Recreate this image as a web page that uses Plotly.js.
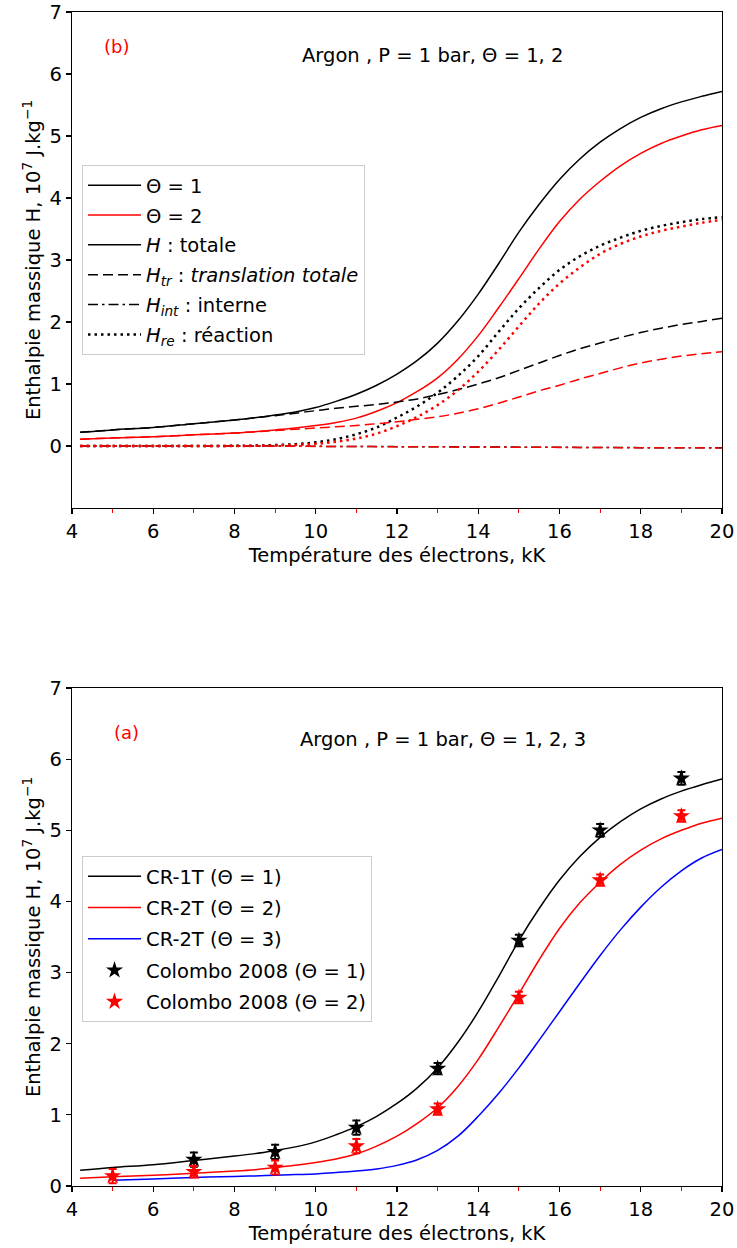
<!DOCTYPE html>
<html>
<head>
<meta charset="utf-8">
<script src="https://cdn.plot.ly/plotly-3.0.1.min.js"></script>
<style>html,body{margin:0;padding:0;background:#fff;}#chart{width:737px;height:1248px;}</style>
</head>
<body>
<div id="chart"></div>
<script>
// Electron temperature grid, kK
const T = [4.2, 5, 6, 7, 8, 8.5, 9, 9.5, 10, 10.5, 11, 11.5, 12, 12.5, 13, 13.5, 14, 14.5, 15, 15.5, 16, 16.5, 17, 17.5, 18, 18.5, 19, 19.5, 20];

// Total enthalpy, 10^7 J/kg
const H_theta1 = [0.22, 0.26, 0.30, 0.36, 0.42, 0.455, 0.50, 0.55, 0.62, 0.72, 0.835, 0.98, 1.16, 1.38, 1.66, 2.02, 2.45, 2.94, 3.45, 3.90, 4.30, 4.63, 4.90, 5.12, 5.30, 5.44, 5.55, 5.64, 5.72];
const H_theta2 = [0.11, 0.13, 0.15, 0.18, 0.21, 0.23, 0.26, 0.29, 0.33, 0.38, 0.45, 0.56, 0.70, 0.88, 1.10, 1.40, 1.78, 2.23, 2.70, 3.18, 3.62, 3.98, 4.27, 4.52, 4.72, 4.88, 5.00, 5.10, 5.17];

// Theta = 3 (starts at 5 kK)
const T3 = [5, 6, 7, 8, 8.5, 9, 9.5, 10, 10.5, 11, 11.5, 12, 12.5, 13, 13.5, 14, 14.5, 15, 15.5, 16, 16.5, 17, 17.5, 18, 18.5, 19, 19.5, 20];
const H_theta3 = [0.08, 0.10, 0.12, 0.135, 0.142, 0.15, 0.16, 0.17, 0.19, 0.21, 0.24, 0.29, 0.37, 0.50, 0.70, 0.98, 1.30, 1.66, 2.05, 2.45, 2.85, 3.24, 3.60, 3.92, 4.20, 4.43, 4.61, 4.73];

// Translation enthalpy
const Htr_theta1 = [0.22, 0.26, 0.30, 0.36, 0.42, 0.455, 0.49, 0.53, 0.57, 0.61, 0.64, 0.67, 0.71, 0.76, 0.83, 0.91, 1.00, 1.10, 1.22, 1.34, 1.46, 1.57, 1.66, 1.75, 1.83, 1.90, 1.96, 2.01, 2.06];
const Htr_theta2 = [0.11, 0.13, 0.15, 0.18, 0.21, 0.23, 0.25, 0.27, 0.29, 0.31, 0.33, 0.36, 0.39, 0.43, 0.47, 0.53, 0.60, 0.69, 0.79, 0.89, 0.98, 1.08, 1.17, 1.26, 1.34, 1.40, 1.45, 1.49, 1.52];

// Internal enthalpy
const Hint_theta1 = [0.0, 0.0, 0.0, 0.0, 0.0, 0.0, 0.0, -0.003, -0.005, -0.007, -0.008, -0.009, -0.01, -0.011, -0.012, -0.014, -0.015, -0.017, -0.018, -0.02, -0.021, -0.022, -0.024, -0.025, -0.026, -0.027, -0.028, -0.029, -0.03];
const Hint_theta2 = [0.0, 0.0, 0.0, 0.0, 0.0, 0.0, -0.002, -0.004, -0.006, -0.008, -0.009, -0.01, -0.011, -0.012, -0.013, -0.015, -0.016, -0.018, -0.019, -0.021, -0.022, -0.023, -0.025, -0.026, -0.027, -0.028, -0.029, -0.03, -0.031];

// Reaction enthalpy
const Hre_theta1 = [0.0, 0.0, 0.0, 0.0, 0.003, 0.007, 0.015, 0.03, 0.06, 0.11, 0.19, 0.30, 0.46, 0.64, 0.86, 1.13, 1.45, 1.84, 2.22, 2.55, 2.84, 3.06, 3.23, 3.36, 3.47, 3.55, 3.61, 3.66, 3.69];
const Hre_theta2 = [0.0, 0.0, 0.0, 0.0, 0.001, 0.003, 0.008, 0.018, 0.035, 0.07, 0.12, 0.20, 0.32, 0.47, 0.66, 0.90, 1.20, 1.55, 1.93, 2.30, 2.62, 2.88, 3.10, 3.26, 3.38, 3.47, 3.54, 3.60, 3.65];

// Colombo 2008 measurements
const T_colombo = [5, 7, 9, 11, 13, 15, 17, 19];
const colombo_theta1 = [null, 0.37, 0.48, 0.82, 1.65, 3.45, 5.00, 5.73];
const colombo_theta1_err = [0, 0.1, 0.1, 0.1, 0.08, 0.08, 0.09, 0.09];
const colombo_theta2 = [0.14, 0.20, 0.26, 0.56, 1.08, 2.65, 4.30, 5.20];
const colombo_theta2_err = [0.1, 0.08, 0.1, 0.1, 0.08, 0.08, 0.08, 0.08];

// Tick labels
const xTicks = [4, 6, 8, 10, 12, 14, 16, 18, 20];
const yTicks = [0, 1, 2, 3, 4, 5, 6, 7];

const F = 'DejaVu Sans';
const FS = 19.5;
const RED = '#ff0000';
const BLUE = '#0000ff';
const DASH = '10px,5px';
const DOT = '2.5px,4px';
const DASHDOT = '10px,4px,2.5px,4px';

function ln(x, y, color, dash, width, name, show, group) {
  return {
    type: 'scatter', mode: 'lines', x: x, y: y, name: name || '',
    xaxis: 'x', yaxis: 'y', showlegend: !!show, legend: 'legend',
    legendgroup: group || undefined,
    line: {color: color, width: width || 1.5, dash: dash || 'solid', shape: 'spline', smoothing: 1},
    hoverinfo: 'skip'
  };
}

const data = [
  ln(T, H_theta1, 'black', 'solid', 1.5, 'Θ = 1', true, 'g1'),
  ln(T, H_theta2, RED, 'solid', 1.5, 'Θ = 2', true, 'g2'),
  ln([null], [null], 'black', 'solid', 1.5, '<i>H</i> : totale', true, 'g3'),
  ln(T, Htr_theta1, 'black', DASH, 1.5, '<i>H<sub>tr</sub></i> : <i>translation totale</i>', true, 'g4'),
  ln(T, Hint_theta1, 'black', DASHDOT, 1.5, '<i>H<sub>int</sub></i> : interne', true, 'g5'),
  ln(T, Hre_theta1, 'black', DOT, 2.5, '<i>H<sub>re</sub></i> : réaction', true, 'g6'),
  ln(T, Htr_theta2, RED, DASH, 1.5),
  ln(T, Hint_theta2, RED, DASHDOT, 1.5),
  ln(T, Hre_theta2, RED, DOT, 2.5),
];

function ln2(x, y, color, name, group) {
  return {
    type: 'scatter', mode: 'lines', x: x, y: y, name: name,
    xaxis: 'x2', yaxis: 'y2', legend: 'legend2', legendgroup: group,
    line: {color: color, width: 1.5, shape: 'spline', smoothing: 1},
    hoverinfo: 'skip'
  };
}
function pts(x, y, err, color, name, group) {
  return {
    type: 'scatter', mode: 'markers', x: x, y: y, name: name,
    xaxis: 'x2', yaxis: 'y2', legend: 'legend2', legendgroup: group,
    marker: {symbol: 'star', size: 13, color: color, line: {width: 0}},
    error_y: {type: 'data', array: err, visible: true, color: color, thickness: 2, width: 4},
    hoverinfo: 'skip'
  };
}
data.push(
  ln2(T, H_theta1, 'black', 'CR-1T (Θ = 1)', 'h1'),
  ln2(T, H_theta2, RED, 'CR-2T (Θ = 2)', 'h2'),
  ln2(T3, H_theta3, BLUE, 'CR-2T (Θ = 3)', 'h3'),
  pts(T_colombo, colombo_theta1, colombo_theta1_err, 'black', 'Colombo 2008 (Θ = 1)', 'h4'),
  pts(T_colombo, colombo_theta2, colombo_theta2_err, RED, 'Colombo 2008 (Θ = 2)', 'h5')
);

const xTitle = 'Température des électrons, kK';
const yTitle = 'Enthalpie massique H, 10<sup>7</sup> J.kg<sup>−1</sup>';

function xax(anchor) {
  return {
    anchor: anchor, domain: [0, 1], range: [4, 20],
    tickmode: 'array', tickvals: xTicks, ticktext: xTicks.map(String),
    ticks: 'outside', ticklen: 5, tickwidth: 1.2, tickcolor: 'black',
    showline: true, mirror: true, linecolor: 'black', linewidth: 1.3,
    showgrid: false, zeroline: false,
    minor: {tick0: 5, dtick: 2, ticks: 'outside', ticklen: 4, tickwidth: 1, tickcolor: RED, showgrid: false},
    tickfont: {family: F, size: FS, color: 'black'},
    title: {text: xTitle, font: {family: F, size: FS, color: 'black'}, standoff: 6}
  };
}
function yax(anchor, domain, range) {
  return {
    anchor: anchor, domain: domain, range: range,
    tickmode: 'array', tickvals: yTicks, ticktext: yTicks.map(String),
    ticks: 'outside', ticklen: 5, tickwidth: 1.2, tickcolor: 'black',
    showline: true, mirror: true, linecolor: 'black', linewidth: 1.3,
    showgrid: false, zeroline: false,
    tickfont: {family: F, size: FS, color: 'black'},
    title: {text: yTitle, font: {family: F, size: FS, color: 'black'}, standoff: 3}
  };
}

const legendBase = {
  bgcolor: 'rgba(255,255,255,0.85)', bordercolor: '#cccccc', borderwidth: 1,
  font: {family: F, size: FS, color: 'black'},
  xref: 'paper', yref: 'paper', xanchor: 'left', yanchor: 'top',
  traceorder: 'grouped', itemclick: false, itemdoubleclick: false, itemwidth: 53
};

const layout = {
  width: 737, height: 1248,
  margin: {l: 72, r: 15, t: 12, b: 62},
  paper_bgcolor: 'white', plot_bgcolor: 'white',
  font: {family: F, size: FS, color: 'black'},
  xaxis: xax('y'),
  yaxis: yax('x', [0.5775, 1], [-1, 7]),
  xaxis2: xax('y2'),
  yaxis2: yax('x2', [0, 0.4242], [0, 7]),
  legend: Object.assign({}, legendBase, {x: 0.0154, y: 0.8697, tracegroupgap: 1.5}),
  legend2: Object.assign({}, legendBase, {x: 0.0154, y: 0.2811, tracegroupgap: 3}),
  showlegend: true,
  annotations: [
    {xref: 'x', yref: 'y', x: 5.1, y: 6.44, text: '(b)', showarrow: false,
     font: {family: F, size: 18, color: RED}},
    {xref: 'x', yref: 'y', x: 12.87, y: 6.3, text: 'Argon , P = 1 bar, Θ = 1, 2', showarrow: false,
     font: {family: F, size: FS, color: 'black'}},
    {xref: 'x2', yref: 'y2', x: 5.35, y: 6.37, text: '(a)', showarrow: false,
     font: {family: F, size: 18, color: RED}},
    {xref: 'x2', yref: 'y2', x: 13.14, y: 6.27, text: 'Argon , P = 1 bar, Θ = 1, 2, 3', showarrow: false,
     font: {family: F, size: FS, color: 'black'}}
  ]
};

Plotly.newPlot('chart', data, layout, {staticPlot: true, displayModeBar: false});
</script>
</body>
</html>
